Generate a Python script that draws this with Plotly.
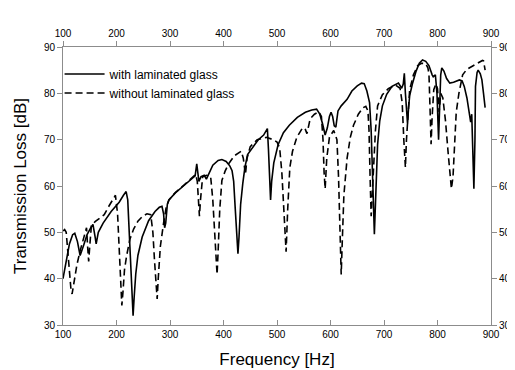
import plotly.graph_objects as go

# Frequency [Hz] / Transmission loss [dB]
freq_with = [100, 105, 112, 118, 122, 127, 132, 138, 145, 152, 156, 160, 162, 166, 175, 190, 205, 213, 218,
             221, 224, 227, 230, 231, 233, 236, 240, 248, 260, 272, 280, 285, 288, 290, 292, 295, 298, 310,
             325, 340, 347, 350, 352, 354, 358, 364, 368, 372, 380, 390, 397, 405, 412, 416, 419, 422, 425,
             427, 429, 432, 436, 440, 445, 455, 465, 475, 482, 484, 486, 488, 490, 494, 502, 512, 523, 538,
             553, 565, 574, 580, 585, 590, 594, 598, 601, 604, 607, 610, 612, 614, 620, 631, 640, 650, 658,
             663, 668, 673, 676, 679, 681, 682, 684, 686, 688, 692, 697, 705, 715, 727, 733, 736, 738, 740,
             742, 744, 746, 748, 753, 760, 766, 772, 778, 784, 790, 792, 796, 799, 802, 804, 806, 808, 812,
             817, 823, 830, 841, 846, 850, 855, 860, 862, 864, 866, 868, 870, 871, 874, 876, 880, 883, 886, 889]
tl_with = [40, 43, 47.5, 49.5, 49.8, 48, 45, 47, 49.5, 51, 51.7, 49, 47.5, 50, 52, 54.5, 56.5, 58, 58.8,
           57, 50, 42, 33, 32, 36, 41, 45, 49, 52.5, 54.5, 55.4, 55.6, 54, 51, 52, 56, 57, 58.5,
           60, 61.5, 62.2, 64.8, 62, 61, 62, 62.3, 61.5, 62.5, 64.5, 65.5, 65.7, 65.3, 64.3, 63.3, 61, 55, 48,
           45.4, 49, 56, 60.5, 64, 66.8, 68.5, 70, 71, 72.4, 68, 62, 57, 61, 65, 68.9, 71.5, 73.1, 74.8,
           75.9, 76.4, 76.6, 75.5, 73.5, 71, 72.5, 75, 75.9, 75, 73, 72.7, 74.5, 76.2, 77.3, 78.7, 80.5, 81.6, 82.2,
           82.1, 80.5, 78, 72, 62, 52, 49.6, 56, 64, 68.9, 74, 77.3, 79.8, 81.5, 82.2, 81.1, 82, 84.3, 80,
           75.5, 73.4, 77, 79.5, 82, 84.8, 86.5, 87.2, 86.9, 86, 84, 83.6, 84, 80, 70, 77, 84, 85.5, 84.8,
           83.2, 82.2, 82.4, 82.9, 82.7, 81.5, 79, 75.5, 73.8, 75.5, 68, 59.4, 70, 81.5, 84.5, 85, 84.2, 82.9, 80, 76.9]

freq_without = [100, 103, 106, 109, 112, 115, 117, 120, 123, 126, 132, 138, 144, 146, 148, 150, 153, 160, 170,
                177, 185, 192, 198, 202, 205, 208, 210, 212, 215, 219, 225, 232, 240, 249, 257, 264, 268, 271,
                274, 276, 278, 282, 288, 293, 298, 310, 325, 340, 348, 351, 353, 355, 357, 361, 368, 376, 380,
                384, 388, 390, 393, 397, 403, 409, 420, 433, 437, 441, 444, 450, 463, 480, 493, 500, 505, 509,
                513, 517, 520, 524, 529, 537, 547, 552, 556, 559, 562, 570, 578, 583, 586, 588, 590, 593, 598,
                606, 612, 615, 618, 620, 622, 625, 631, 637, 643, 652, 661, 666, 670, 672, 674, 676, 678, 681,
                684, 688, 697, 708, 721, 730, 734, 737, 740, 742, 745, 748, 755, 763, 770, 778, 782, 784, 786,
                788, 790, 793, 797, 800, 803, 806, 810, 815, 820, 824, 826, 829, 832, 835, 840, 847, 855, 862,
                870, 877, 884, 886, 888, 889]
tl_without = [50.3, 50.6, 50, 46, 41, 37.5, 36.7, 39, 41.5, 43, 46, 48.5, 51, 47, 43.7, 47, 51.4, 52.3, 53.2,
              53.8, 55.5, 57, 58, 54, 46, 38, 34.2, 37, 42, 45, 48.5, 50.7, 52.4, 53.5, 54, 53.8, 50, 44,
              38, 35.6, 40, 47, 52, 55.5, 57, 58.6, 60.1, 61.6, 62.5, 61, 56, 53.5, 57, 62, 62.3, 62, 57,
              48, 40.9, 46, 55, 61.2, 63.2, 64.7, 66.5, 67.5, 66, 62.5, 66, 68.5, 70, 70.5, 70, 69.5, 68.2, 63,
              53, 45.8, 55, 64, 67.5, 70.5, 72.4, 72.5, 71.3, 73, 74.5, 75.5, 76, 75, 70, 63, 59.4, 66, 70.5,
              72, 70, 62, 50, 40.9, 48, 58, 66, 70.5, 73.1, 75.5, 76.9, 77.2, 76.2, 72, 62, 53.5, 58, 66,
              72, 77.3, 79.7, 81, 81.8, 81.1, 78, 70, 64, 70, 77, 80.8, 84, 86, 86.5, 86.4, 85.5, 84.3, 77,
              69, 75, 80.8, 82, 81, 76, 80, 79, 74, 67, 62, 59.4, 62, 70, 75.9, 80, 84, 85.2, 85.7,
              86.2, 86.6, 87.1, 87, 85.5, 85]

x_ticks = [100, 200, 300, 400, 500, 600, 700, 800, 900]
y_ticks = [30, 40, 50, 60, 70, 80, 90]

FONT = "Liberation Sans, Arial, Helvetica, sans-serif"
AX = "#8c8c8c"

fig = go.Figure()
fig.add_trace(go.Scatter(x=freq_with, y=tl_with, mode="lines", name="with laminated glass",
                         line=dict(color="black", width=1.6)))
fig.add_trace(go.Scatter(x=freq_without, y=tl_without, mode="lines", name="without laminated glass",
                         line=dict(color="black", width=1.6, dash="7px,4px")))
# invisible trace to activate the mirrored (top / right) axes
fig.add_trace(go.Scatter(x=[x_ticks[0]], y=[y_ticks[0]], xaxis="x2", yaxis="y2", mode="markers",
                         marker=dict(opacity=0), showlegend=False, hoverinfo="skip"))

common = dict(showgrid=False, zeroline=False, showline=True, linecolor=AX, linewidth=1,
              ticklen=5, tickcolor=AX, tickwidth=1,
              tickfont=dict(family=FONT, size=10, color="black"))

fig.update_layout(
    width=515, height=370,
    margin=dict(l=52, r=19, t=39, b=46),
    paper_bgcolor="white", plot_bgcolor="white",
    font=dict(family=FONT, color="black"),
    xaxis=dict(range=[100, 900], tickvals=x_ticks, ticks="inside", **common,
               title=dict(text="Frequency [Hz]", font=dict(size=17), standoff=14)),
    yaxis=dict(range=[30, 90], tickvals=y_ticks, ticks="outside", **common,
               title=dict(text="Transmission Loss [dB]", font=dict(size=17), standoff=12)),
    xaxis2=dict(range=[100, 900], tickvals=x_ticks, ticks="outside", overlaying="x", side="top", **common),
    yaxis2=dict(range=[30, 90], tickvals=y_ticks, ticks="outside", overlaying="y", side="right", **common),
    legend=dict(x=-0.008, y=0.955, xanchor="left", yanchor="top", bgcolor="rgba(0,0,0,0)",
                font=dict(family=FONT, size=12), tracegroupgap=0, itemwidth=40),
    showlegend=True,
)

fig.write_html("out.html")
